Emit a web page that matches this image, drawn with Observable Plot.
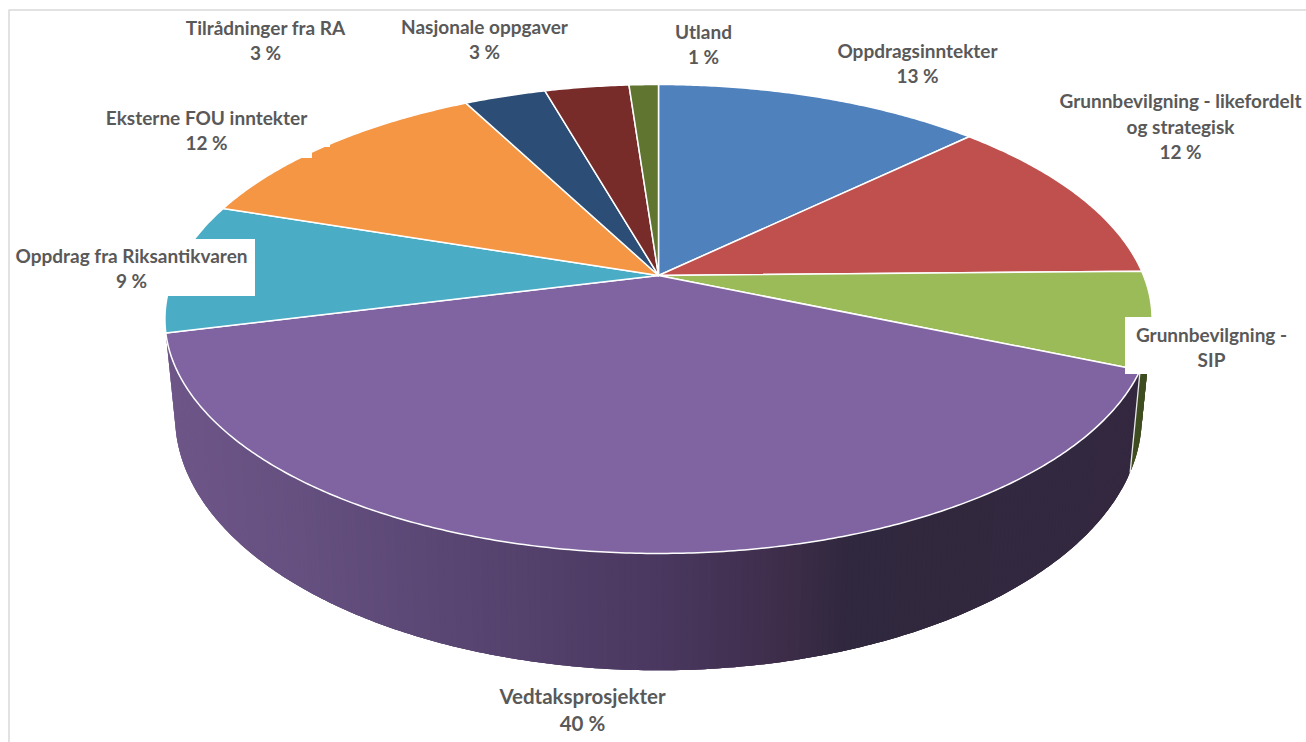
<!DOCTYPE html>
<html>
<head>
<meta charset="utf-8">
<script src="https://cdn.jsdelivr.net/npm/d3@7"></script>
<script src="https://cdn.jsdelivr.net/npm/@observablehq/plot@0.6"></script>
<style>html,body{margin:0;padding:0;background:#fff}svg{display:block}</style>
</head>
<body>
<div id="chart"></div>
<script>
// Data
const categories = ["Oppdragsinntekter","Grunnbevilgning - likefordelt\nog strategisk","Grunnbevilgning -\nSIP","Vedtaksprosjekter","Oppdrag fra Riksantikvaren","Eksterne FOU inntekter","Tilrådninger fra RA","Nasjonale oppgaver","Utland"];
const shares = [12.85, 11.85, 6.65, 39.75, 8.97, 12.28, 3.2, 3.3, 1.15];
const shareLabels = ["13 %","12 %","","40 %","9 %","12 %","3 %","3 %","1 %"];
const sliceColors = ["#4f81bd","#c0504d","#9bbb59","#8064a2","#4bacc6","#f59644","#2c4d75","#772c2a","#5f7530"];

// Layout (not data)
const W = 1306, H = 742;
const labelX = [917,1180,1211,582,131,206,265,484,703];
const labelY = [62,125,346,708,267,129,39,38,43];
const labelSize = [19,19,19,20.5,19,19,19,19,19];
const topFace = {cx:658, cy:275, R:485, S:226.4, k:0.1855};
const baseFace = {cx:658, cy:369, R:475, S:245, k:0.1855};
const sideStops = {x:[170,300,660,785,850,1140], c:["#6e5688","#655080","#4a3860","#3e2d4a","#30283e","#33283f"]};
const sideGreen = "#3f4e20";
const rad = Math.PI/180;

function project(f, deg){
  const u = Math.sin(deg*rad), v = Math.cos(deg*rad), w = 1 + f.k*v;
  return {x: f.cx + f.R*u/w, y: f.cy - f.S*v/w};
}
// Angles from the shares
const total = d3.sum(shares);
let acc = 0;
const slices = shares.map((s,i)=>{const a0 = acc/total*360; acc += s; return {i, a0, a1: acc/total*360};});

// Top-face polygons
const topPts = [];
for (const s of slices){
  const n = Math.max(2, Math.ceil((s.a1-s.a0)/0.5));
  const c = {x: topFace.cx, y: topFace.cy};
  topPts.push({...c, id:s.i, color:sliceColors[s.i]});
  for (let j=0;j<=n;j++){
    const p = project(topFace, s.a0+(s.a1-s.a0)*j/n);
    topPts.push({...p, id:s.i, color:sliceColors[s.i]});
  }
  topPts.push({...c, id:s.i, color:sliceColors[s.i]});
}

// Side wall, only where it faces the viewer; each piece overlaps the next so no seams show
const shade = d3.scaleLinear().domain(sideStops.x).range(sideStops.c).interpolate(d3.interpolateRgb).clamp(true);
const sidePts = [];
let sid = 0;
function wall(a0,a1,colorFn,steps){
  for (let j=0;j<steps;j++){
    const p = a0+(a1-a0)*j/steps, q = Math.min(a0+(a1-a0)*(j+3)/steps, a1);
    const A = project(topFace,p), D = project(baseFace,p);
    const color = colorFn((A.x+D.x)/2);
    const top = [], bot = [];
    for (let t=0;t<=3;t++){
      const a = p+(q-p)*t/3;
      top.push(project(topFace,a)); bot.unshift(project(baseFace,a));
    }
    [...top,...bot].forEach(P=>sidePts.push({...P,id:sid,color}));
    sid++;
  }
}
const rightSil = Math.acos(-topFace.k)/rad;
wall(rightSil, slices[2].a1, ()=>sideGreen, 12);
wall(slices[3].a0, slices[3].a1, shade, 240);

const divider = [project(topFace,slices[3].a0), project(baseFace,slices[3].a0)];

const labels = categories.map((c,i)=>({
  text: shareLabels[i] ? c+"\n"+shareLabels[i] : c, x: labelX[i], y: labelY[i], size: labelSize[i]
}));

const masks = [
  {x1:10,x2:255,y1:239,y2:296},
  {x1:1125,x2:1300,y1:317,y2:374},
  {x1:295,x2:312,y1:140,y2:158},
  {x1:312,x2:330,y1:140,y2:147}
];
const frame = [
  {x:W,y:9.5},{x:8.5,y:9.5},{x:8.5,y:H}
];

const chart = Plot.plot({
  width:W, height:H, margin:0,
  x:{domain:[0,W],range:[0,W],axis:null},
  y:{domain:[0,H],range:[0,H],axis:null},
  color:{type:"identity"},
  marks:[
    Plot.line(frame,{x:"x",y:"y",stroke:"#d9d9d9",strokeWidth:1.5}),
    Plot.line(sidePts,{x:"x",y:"y",z:"id",fill:"color",stroke:"none"}),
    Plot.line(divider,{x:"x",y:"y",stroke:"#e8e8e8",strokeWidth:1.3}),
    Plot.line(topPts,{x:"x",y:"y",z:"id",fill:"color",stroke:"#ffffff",strokeWidth:1.5,strokeLinejoin:"round"}),
    Plot.rect(masks,{x1:"x1",x2:"x2",y1:"y1",y2:"y2",fill:"#ffffff"}),
    Plot.text(labels,{x:"x",y:"y",text:"text",fill:"#595959",fontSize:"size",fontWeight:700,fontFamily:"Lato",lineHeight:1.32,textAnchor:"middle"})
  ]
});
document.getElementById("chart").append(chart);
</script>
</body>
</html>
